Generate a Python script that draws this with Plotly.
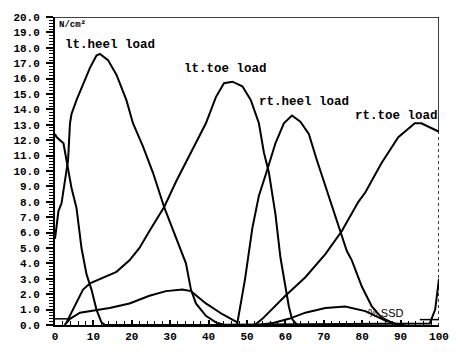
import plotly.graph_objects as go

# Gait cycle, % of stride; plantar load in N/cm²
lt_heel_x = [0, 0.9, 1.7, 2.2, 3.0, 3.4, 3.9, 4.3, 5.6, 7.3, 9.1, 10.8, 11.7, 13.8, 16.0, 18.6,
             20.3, 22.9, 25.5, 28.5, 31.5, 34.1, 35.4, 36.7, 39.3, 41.9, 44, 97.6, 99.0, 100]
lt_heel_y = [5.6, 7.4, 7.9, 8.8, 9.9, 10.7, 13.1, 13.7, 14.6, 15.6, 16.7, 17.5, 17.6, 17.2, 16.25, 14.6,
             13.1, 11.6, 9.9, 7.6, 5.7, 4.0, 2.3, 1.4, 0.6, 0.17, 0.02, 0.1, 1.0, 3.0]

lt_toe_x = [3.0, 5.6, 7.3, 9.1, 11.7, 16.0, 19.4, 22.0, 24.6, 28.5, 31.5, 35.8, 39.3, 41.9, 44.0,
            46.2, 48.8, 51.0, 53.1, 54.4, 55.7, 57.4, 58.7, 60.0, 60.9, 61.7, 63]
lt_toe_y = [0.17, 1.4, 2.3, 2.7, 3.0, 3.45, 4.2, 5.0, 6.1, 7.7, 9.3, 11.4, 13.1, 14.8, 15.7,
            15.8, 15.5, 14.6, 13.1, 11.2, 9.9, 7.2, 4.4, 2.5, 1.2, 0.4, 0.02]

rt_heel_x = [47.4, 49.5, 51.4, 53.1, 55.3, 57.4, 59.6, 61.7, 63.9, 66.1, 68.2, 69.5, 72.1, 74.3,
             76.0, 77.3, 79.9, 82.5, 85.0, 87.6, 89]
rt_heel_y = [0.0, 3.0, 6.3, 8.4, 10.1, 11.8, 13.1, 13.6, 13.2, 12.4, 10.7, 9.7, 7.8, 6.1,
             4.8, 4.2, 2.5, 1.2, 0.5, 0.17, 0.02]

rt_toe_x = [0, 0.4, 2.2, 3.0, 3.4, 4.3, 5.6, 6.9, 8.2, 9.5, 10.8, 12.1, 13,
            52, 54.0, 60.0, 65.2, 70.4, 74.7, 79.0, 80.8, 85.0, 89.4, 93.7, 95.4, 100]
rt_toe_y = [12.4, 12.2, 11.8, 10.7, 9.9, 8.9, 7.6, 5.0, 3.3, 2.3, 1.0, 0.17, 0.0,
            0.0, 0.4, 1.9, 3.1, 4.6, 6.1, 8.0, 8.6, 10.5, 12.2, 13.1, 13.1, 12.55]

lt_sd_x = [2.5, 3.9, 6.5, 9.1, 14.2, 19.4, 24.6, 28.9, 33.2, 35.4, 39.3, 43.6, 47.5]
lt_sd_y = [0.0, 0.4, 0.8, 0.9, 1.1, 1.4, 1.9, 2.2, 2.3, 2.2, 1.4, 0.7, 0.17]

rt_sd_x = [53, 57, 60.9, 65.2, 70.4, 75.6, 80.8, 83.3, 85.9, 88.5, 91]
rt_sd_y = [0.0, 0.15, 0.4, 0.8, 1.1, 1.2, 0.9, 0.6, 0.3, 0.1, 0.0]

base_x = [[0, 3.5], [95, 100]]
base_y = [[0.4, 0.4], [0.35, 0.35]]

y_ticks = [i for i in range(0, 21)]
y_tick_text = [f"{v:.1f}" for v in y_ticks]
x_ticks = list(range(0, 101, 10))

labels = ["lt.heel load", "lt.toe load", "rt.heel load", "rt.toe load"]
label_x = [2.1, 33.2, 52.6, 77.7]
label_y = [18.2, 16.6, 14.5, 13.6]

fig = go.Figure()
for xs, ys in [(lt_heel_x, lt_heel_y), (lt_toe_x, lt_toe_y), (rt_heel_x, rt_heel_y),
               (rt_toe_x, rt_toe_y), (lt_sd_x, lt_sd_y), (rt_sd_x, rt_sd_y)]:
    fig.add_trace(go.Scatter(x=xs, y=ys, mode="lines", line=dict(color="black", width=2),
                             hoverinfo="skip", showlegend=False))
for xs, ys in zip(base_x, base_y):
    fig.add_trace(go.Scatter(x=xs, y=ys, mode="lines", line=dict(color="black", width=1.5),
                             hoverinfo="skip", showlegend=False))

mono = "Liberation Mono"
for t, lx, ly in zip(labels, label_x, label_y):
    fig.add_annotation(x=lx, y=ly, text=f"<b>{t}</b>", showarrow=False, xanchor="left", yanchor="middle",
                       font=dict(family=mono, size=12.5, color="black"))
fig.add_annotation(x=0.6, y=19.5, text="<b>N/cm²</b>", showarrow=False, xanchor="left", yanchor="middle",
                   font=dict(family=mono, size=9, color="black"))
fig.add_annotation(x=81.1, y=0.75, text="% SSD", showarrow=False, xanchor="left", yanchor="middle",
                   font=dict(family="Liberation Sans", size=11, color="black"))

# frame: top edge solid, right edge solid above the curve end and dashed below
fig.add_shape(type="line", x0=0, x1=100, y0=20, y1=20, line=dict(color="black", width=1.5))
fig.add_shape(type="line", x0=100, x1=100, y0=20, y1=12.6, line=dict(color="black", width=1.5))
fig.add_shape(type="line", x0=100, x1=100, y0=12.6, y1=0, line=dict(color="black", width=1.5, dash="dot"))

fig.update_xaxes(range=[0, 100], tickvals=x_ticks, ticktext=[f"<b>{v}</b>" for v in x_ticks],
                 ticks="inside", ticklen=5, tickwidth=1.5,
                 tickcolor="black", showline=True, linecolor="black", linewidth=2, showgrid=False,
                 zeroline=False, minor=dict(dtick=2, ticks="inside", ticklen=4, tickcolor="black", tickwidth=1.2),
                 tickfont=dict(family=mono, size=11, color="black"), ticklabelstandoff=0)
fig.update_yaxes(range=[0, 20], tickvals=y_ticks, ticktext=[f"<b>{t}</b>" for t in y_tick_text],
                 ticks="outside", ticklen=7, tickwidth=1.5, tickcolor="black", showline=True,
                 linecolor="black", linewidth=2, showgrid=False, zeroline=False,
                 minor=dict(dtick=0.2, ticks="outside", ticklen=4, tickcolor="black", tickwidth=1),
                 tickfont=dict(family=mono, size=11, color="black"), ticklabelstandoff=4)
fig.update_layout(width=461, height=355, margin=dict(l=55, r=20, t=12, b=29),
                  plot_bgcolor="white", paper_bgcolor="white")
fig.write_html("out.html")
